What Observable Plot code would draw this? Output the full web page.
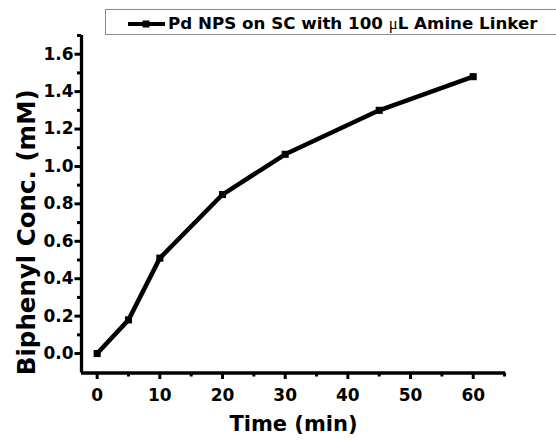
<!DOCTYPE html>
<html>
<head>
<meta charset="utf-8">
<script src="https://cdn.jsdelivr.net/npm/d3@7"></script>
<script src="https://cdn.jsdelivr.net/npm/@observablehq/plot@0.6"></script>
<style>
  html, body { margin: 0; padding: 0; background: #fff; overflow: hidden; }
  #wrap { position: relative; width: 556px; height: 443px; font-family: "DejaVu Sans", sans-serif; }
  #legend { position: absolute; left: 105px; top: 9px; width: 470px; height: 26px; border: 1px solid #8a8a8a; box-sizing: border-box; background: #fff; }
  #legend svg { position: absolute; left: 22px; top: 8px; }
  #legend .lbl { position: absolute; left: 62px; top: 3px; font-weight: bold; font-size: 16.7px; line-height: 20px; color: #000; white-space: nowrap; }
  #legend .mu { font-family: "Liberation Serif", serif; font-weight: normal; }
</style>
</head>
<body>
<div id="wrap">
  <div id="chart"></div>
  <div id="legend">
    <svg width="38" height="12"><line x1="0" y1="6" x2="37" y2="6" stroke="#000" stroke-width="4"/><rect x="14.5" y="2.5" width="7" height="7" fill="#000"/></svg>
    <span class="lbl">Pd NPS on SC with 100 <span class="mu">μ</span>L Amine Linker</span>
  </div>
</div>
<script>
const times = [0, 5, 10, 20, 30, 45, 60];
const conc = [0, 0.18, 0.51, 0.85, 1.065, 1.30, 1.48];
const xMajorTicks = [0, 10, 20, 30, 40, 50, 60];
const xMinorTicks = [5, 15, 25, 35, 45, 55, 65];
const yMajorTicks = [0, 0.2, 0.4, 0.6, 0.8, 1.0, 1.2, 1.4, 1.6];
const yMinorTicks = [0.1, 0.3, 0.5, 0.7, 0.9, 1.1, 1.3, 1.5, 1.7];
const xTitle = "Time (min)";
const yTitle = "Biphenyl Conc. (mM)";

const data = times.map((t, i) => ({t, c: conc[i]}));
const xDomain = [-2.5, 65.15];
const yDomain = [-0.104, 1.70];
const font = "'DejaVu Sans', sans-serif";

const chart = Plot.plot({
  width: 556,
  height: 443,
  marginLeft: 81,
  marginRight: 51,
  marginTop: 35,
  marginBottom: 70.5,
  x: {domain: xDomain},
  y: {domain: yDomain},
  style: {fontFamily: font, color: "#000", background: "transparent"},
  marks: [
    Plot.ruleY([yDomain[0]], {strokeWidth: 3.3, x1: xDomain[0], x2: xDomain[1]}),
    Plot.ruleX([xDomain[0]], {strokeWidth: 3.3, y1: yDomain[0], y2: yDomain[1]}),
    Plot.axisX({ticks: xMajorTicks, tickSize: 6.5, tickPadding: 9, strokeWidth: 3, fontSize: 17, fontWeight: "bold", label: null, tickFormat: d => d}),
    Plot.axisX({ticks: xMinorTicks, tickSize: 4, strokeWidth: 3, label: null, tickFormat: () => ""}),
    Plot.axisY({ticks: yMajorTicks, tickSize: 6.5, tickPadding: 1.5, strokeWidth: 3, fontSize: 17, fontWeight: "bold", label: null, tickFormat: d3.format(".1f")}),
    Plot.axisY({ticks: yMinorTicks, tickSize: 4, strokeWidth: 3, label: null, tickFormat: () => ""}),
    Plot.text([xTitle], {frameAnchor: "bottom", textAnchor: "middle", dy: 57.5, fontSize: 21, fontWeight: "bold"}),
    Plot.text([yTitle], {frameAnchor: "left", textAnchor: "middle", rotate: -90, dx: -54, dy: 28, fontSize: 24.5, fontWeight: "bold"}),
    Plot.line(data, {x: "t", y: "c", stroke: "#000", strokeWidth: 4.5}),
    Plot.dot(data, {x: "t", y: "c", symbol: "square", r: 4, fill: "#000", stroke: null})
  ]
});
document.getElementById("chart").appendChild(chart);
</script>
</body>
</html>
